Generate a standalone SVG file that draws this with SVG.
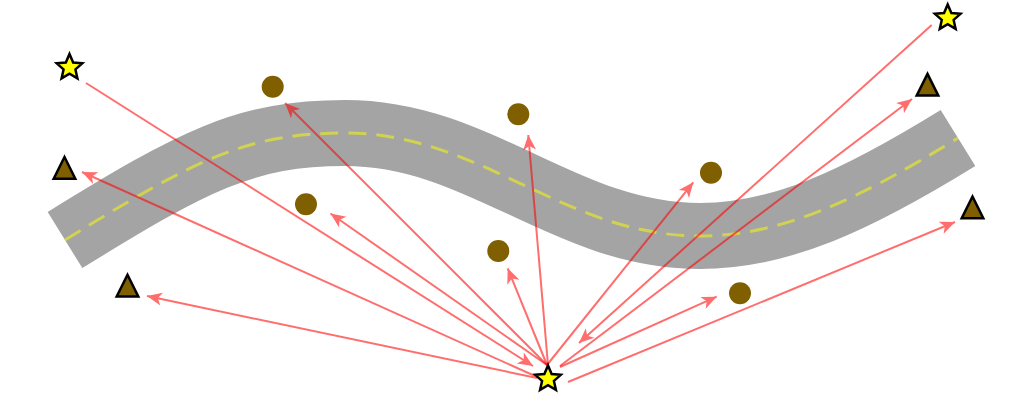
<svg xmlns="http://www.w3.org/2000/svg" width="1025" height="403" viewBox="0 0 1025 403">
<style>
.road{fill:none;stroke:#a4a4a4;stroke-width:66;stroke-linecap:butt}
.center{fill:none;stroke:#ffff00;stroke-opacity:0.5;stroke-width:3;stroke-dasharray:18 10}
.ray{fill:none;stroke:#ff0000;stroke-width:2;opacity:0.57;marker-end:url(#ah)}
.lm{fill:#7f5f00}
.tri{fill:#7f5f00;stroke:#000;stroke-width:2.5;stroke-linejoin:miter}
.star{fill:#ffff00;stroke:#000;stroke-width:2.5;stroke-linejoin:miter}
</style>
<defs>
<marker id="ah" viewBox="-16 -8 17 16" refX="0" refY="0" markerWidth="17" markerHeight="16" markerUnits="userSpaceOnUse" orient="auto">
<path d="M0,0 L-15,-6.5 L-11,0 L-15,6.5 Z" fill="#ff0000"/>
</marker>
<path id="starshape" d="M0,-13.5 L3.66,-5.04 L12.84,-4.17 L5.93,1.93 L7.94,10.92 L0,6.23 L-7.94,10.92 L-5.93,1.93 L-12.84,-4.17 L-3.66,-5.04 Z"/>
<polygon id="trishape" points="0,-11.5 10.8,10.2 -10.8,10.2"/>
</defs>
<rect width="1025" height="403" fill="#ffffff"/>
<g id="road">
<path class="road" d="M65,240 C192.7,161.3 245,133 345,133 C481,133 564,236 700,236 C780,236 855.9,201 958,138"/>
<path class="center" d="M65,240 C192.7,161.3 245,133 345,133 C481,133 564,236 700,236 C780,236 855.9,201 958,138"/>
</g>
<g id="connectors">
<path class="ray" d="M86,83 L533,366"/>
<path class="ray" d="M931.7,25 L579,343"/>
<path class="ray" d="M535,376 L82,172"/>
<path class="ray" d="M547,365 L330.5,213.5"/>
<path class="ray" d="M537,378 L147,296"/>
<path class="ray" d="M547,365 L285,103"/>
<path class="ray" d="M548,365 L528.3,135"/>
<path class="ray" d="M547,365 L507.7,268.3"/>
<path class="ray" d="M547,365 L693.3,182.3"/>
<path class="ray" d="M560,366 L912,99"/>
<path class="ray" d="M560,367 L716.7,296.7"/>
<path class="ray" d="M568,382 L955,222"/>
</g>
<g id="circle1"><circle class="lm" cx="272.7" cy="86.7" r="11"/></g>
<g id="circle2"><circle class="lm" cx="306" cy="204.3" r="11"/></g>
<g id="circle3"><circle class="lm" cx="518.3" cy="114.3" r="11"/></g>
<g id="circle4"><circle class="lm" cx="498.3" cy="251" r="11"/></g>
<g id="circle5"><circle class="lm" cx="711" cy="172.7" r="11"/></g>
<g id="circle6"><circle class="lm" cx="740" cy="293.3" r="11"/></g>
<g id="tri1"><use href="#trishape" class="tri" transform="translate(64.5,168.5)"/></g>
<g id="tri2"><use href="#trishape" class="tri" transform="translate(127.5,286.3)"/></g>
<g id="tri3"><use href="#trishape" class="tri" transform="translate(927.5,85.4)"/></g>
<g id="tri4"><use href="#trishape" class="tri" transform="translate(972.5,208)"/></g>
<g id="star1"><use href="#starshape" class="star" transform="translate(69.5,67.5)"/></g>
<g id="star2"><use href="#starshape" class="star" transform="translate(947.7,18)"/></g>
<g id="star3"><use href="#starshape" class="star" transform="translate(548,379)"/></g>
</svg>
